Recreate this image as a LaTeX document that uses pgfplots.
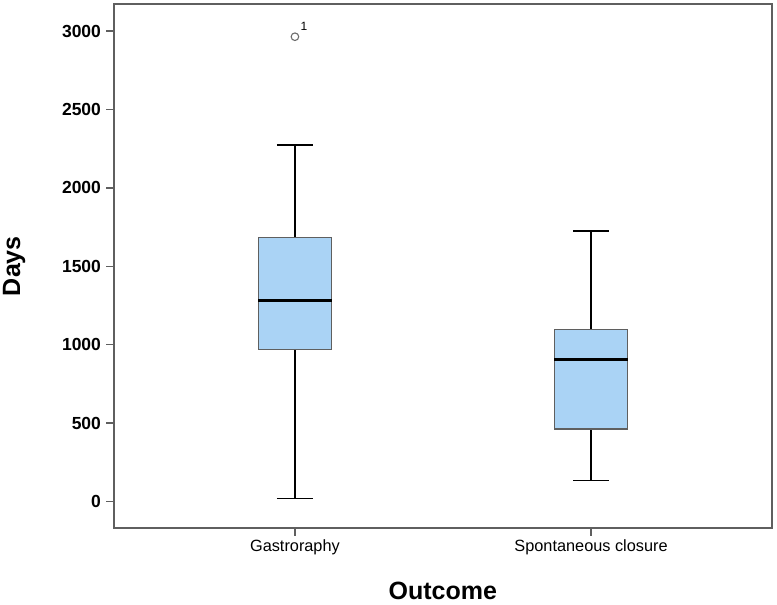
\documentclass[border=0pt]{standalone}
\usepackage{pgfplots}
\pgfplotsset{compat=1.18}
\usepackage{fontspec}
\setmainfont{Liberation Sans}
\definecolor{boxblue}{RGB}{170,211,245}
\definecolor{axgray}{RGB}{95,95,95}
\begin{document}
\begin{tikzpicture}
\path[use as bounding box] (0pt,0pt) rectangle (777pt,605pt);
\begin{axis}[
  at={(114pt,77pt)}, anchor=south west,
  scale only axis, width=657.7pt, height=523.7pt,
  xmin=0.389, xmax=2.61, ymin=-170, ymax=3172,
  xtick={1,2}, xticklabels={Gastroraphy, Spontaneous closure},
  ytick={0,500,...,3000},
  tick pos=left, tick align=outside, major tick length=8pt,
  axis line style={axgray, line width=1.6pt},
  every tick/.style={axgray, line width=1.6pt},
  /pgf/number format/assume math mode=true,
  /pgf/number format/1000 sep={},
  yticklabel style={font=\fontsize{17.5}{19}\selectfont\bfseries, xshift=-1.5pt},
  xticklabel style={font=\fontsize{16.3}{18}\selectfont},
  xlabel={Outcome}, ylabel={Days},
  label style={font=\fontsize{25}{28}\selectfont\bfseries},
  xlabel style={at={(axis description cs:0.5,-0.1203)}, anchor=center},
  ylabel style={at={(axis description cs:-0.152,0.5)}, anchor=center},
  whisk/.style={black, line width=1.6pt, mark=none},
  boxst/.style={fill=boxblue, draw=axgray, line width=1.2pt, mark=none},
  med/.style={black, line width=2.8pt, mark=none},
]
% Gastroraphy: lw=17, q1=970, med=1283, q3=1686, uw=2275, outlier 2965
\addplot[whisk] coordinates {(1,1686) (1,2275)};
\addplot[whisk] coordinates {(0.939,2275) (1.061,2275)};
\addplot[whisk] coordinates {(1,970) (1,17)};
\addplot[whisk] coordinates {(0.939,17) (1.061,17)};
\addplot[boxst] coordinates {(0.8765,970) (1.1235,970) (1.1235,1686) (0.8765,1686)} -- cycle;
\addplot[med] coordinates {(0.8765,1283) (1.1235,1283)};
\addplot[only marks, mark=o, mark size=3.8pt, mark options={draw=gray!85!black, line width=1.1pt}] coordinates {(1,2965)};
% Spontaneous closure: lw=134, q1=462, med=905, q3=1098, uw=1724
\addplot[whisk] coordinates {(2,1098) (2,1724)};
\addplot[whisk] coordinates {(1.939,1724) (2.061,1724)};
\addplot[whisk] coordinates {(2,462) (2,134)};
\addplot[whisk] coordinates {(1.939,134) (2.061,134)};
\addplot[boxst] coordinates {(1.8765,462) (2.1235,462) (2.1235,1098) (1.8765,1098)} -- cycle;
\addplot[med] coordinates {(1.8765,905) (2.1235,905)};
\node[font=\fontsize{12}{13}\selectfont, inner sep=0pt] at (axis cs:1,2965) [xshift=9pt, yshift=10pt] {1};
\end{axis}
\end{tikzpicture}
\end{document}
